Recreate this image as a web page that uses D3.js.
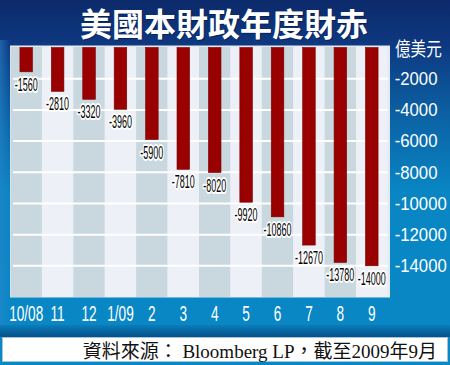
<!DOCTYPE html>
<html><head><meta charset="utf-8">
<script src="https://cdn.jsdelivr.net/npm/d3@7"></script>
<style>
html,body{margin:0;padding:0;background:#0987c4;}
svg{display:block;}
</style></head>
<body>
<svg id="c" width="450" height="365"></svg>
<script>
const categories = ["10/08","11","12","1/09","2","3","4","5","6","7","8","9"];
const deficits = [-1560,-2810,-3320,-3960,-5900,-7810,-8020,-9920,-10860,-12670,-13780,-14000];
const yTicks = [-2000,-4000,-6000,-8000,-10000,-12000,-14000];
const title = "美國本財政年度財赤";
const unitLabel = "億美元";
const sourceText = "資料來源： Bloomberg LP，截至2009年9月";

const svg = d3.select("#c");
const W = 450, H = 365;
const defs = svg.append("defs");
const bg = defs.append("linearGradient").attr("id","bg").attr("x1",0).attr("y1",0).attr("x2",0).attr("y2",1);
[[0,"#0c2a6a"],[0.12,"#0e3880"],[0.33,"#0b64a6"],[0.52,"#0985c3"],[1,"#0988c6"]].forEach(s=>bg.append("stop").attr("offset",s[0]).attr("stop-color",s[1]));
const lg = defs.append("linearGradient").attr("id","lg").attr("x1",0).attr("y1",0).attr("x2",1).attr("y2",0);
[[0,"#2a86cc",0.55],[1,"#2a86cc",0]].forEach(s=>lg.append("stop").attr("offset",s[0]).attr("stop-color",s[1]).attr("stop-opacity",s[2]));
const sh = defs.append("linearGradient").attr("id","sh").attr("x1",0).attr("y1",0).attr("x2",0).attr("y2",1);
[[0,"#0a7dba"],[1,"#07508a"]].forEach(s=>sh.append("stop").attr("offset",s[0]).attr("stop-color",s[1]));

svg.append("rect").attr("width",W).attr("height",H).attr("fill","url(#bg)");
svg.append("rect").attr("x",0).attr("y",40).attr("width",10).attr("height",290).attr("fill","url(#lg)");

// title
svg.append("text").attr("x",225).attr("y",36.5).attr("text-anchor","middle")
  .attr("font-family","'Noto Sans CJK TC','Noto Sans CJK SC',sans-serif").attr("font-weight",700)
  .attr("font-size",32).attr("fill","#06183f").attr("opacity",0.6).text(title);
svg.append("text").attr("x",224).attr("y",35.5).attr("text-anchor","middle")
  .attr("font-family","'Noto Sans CJK TC','Noto Sans CJK SC',sans-serif").attr("font-weight",700)
  .attr("font-size",32).attr("fill","#ffffff").text(title);

const plotL = 10, plotR = 390, plotT = 45.5, plotB = 297.5;
const x = d3.scaleBand().domain(categories).range([10.5, 387.5]).padding(0);
const y = d3.scaleLinear().domain([0,-16000]).range([47.5, 297]);

svg.append("rect").attr("x",plotL).attr("y",plotT).attr("width",plotR-plotL).attr("height",plotB-plotT)
  .attr("fill","#e4eaf2");
svg.append("g").selectAll("rect").data(categories).join("rect")
  .attr("x",d=>x(d)).attr("y",plotT+1.5).attr("width",x.bandwidth()).attr("height",plotB-plotT-2)
  .attr("fill",(d,i)=>i%2===0?"#c8d8de":"#eef0f8");

// gridlines
svg.append("g").selectAll("line").data(yTicks).join("line")
  .attr("x1",13).attr("x2",388).attr("y1",d=>y(d)).attr("y2",d=>y(d))
  .attr("stroke","#ffffff").attr("stroke-width",2);

// bars
const bw = x.bandwidth()*0.4;
svg.append("g").selectAll("rect").data(deficits).join("rect")
  .attr("x",(d,i)=>x(categories[i])+x.bandwidth()/2-bw/2)
  .attr("y",y(0)).attr("width",bw).attr("height",d=>y(d)-y(0))
  .attr("fill","#990000").attr("stroke","#7a0000").attr("stroke-width",0.6);

// value labels
const vl = svg.append("g").selectAll("g").data(deficits).join("g")
  .attr("transform",(d,i)=>`translate(${x(categories[i])+x.bandwidth()/2},${y(d)+19})`);
vl.append("text").attr("transform","scale(0.5,1)").attr("text-anchor","middle")
  .attr("font-family","'Liberation Sans',Arial,sans-serif").attr("font-size",18)
  .attr("fill","#000").attr("stroke","#fff").attr("stroke-width",4).attr("stroke-linejoin","round")
  .attr("paint-order","stroke").text(d=>d);

// right axis
const ya = svg.append("g").attr("transform",`translate(${plotR},0)`)
  .call(d3.axisRight(y).tickValues(yTicks).tickSize(0).tickPadding(5).tickFormat(d=>d));
ya.select(".domain").remove();
ya.selectAll("text").attr("fill","#fff").attr("font-size",18)
  .attr("font-family","'Liberation Sans',Arial,sans-serif").attr("transform","scale(0.93,1)");

svg.append("text").attr("x",395).attr("y",56).attr("transform","translate(395,0) scale(0.82,1) translate(-395,0)")
  .attr("font-family","'Noto Sans CJK TC',sans-serif").attr("font-size",19).attr("fill","#fff").text(unitLabel);

// bottom axis
const xa = svg.append("g").attr("transform",`translate(0,${plotB})`)
  .call(d3.axisBottom(x).tickSize(0).tickPadding(8));
xa.select(".domain").remove();
xa.selectAll("text").attr("fill","#fff").attr("font-size",22)
  .attr("font-family","'Liberation Sans',Arial,sans-serif").attr("transform","scale(0.62,1)");

// footer
svg.append("rect").attr("x",0).attr("y",325).attr("width",W).attr("height",12).attr("fill","url(#sh)");
svg.append("rect").attr("x",2.5).attr("y",337.5).attr("width",445).attr("height",24).attr("fill","#fff")
  .attr("stroke","#a9c3d6").attr("stroke-width",1);
svg.append("text").attr("x",437).attr("y",358).attr("text-anchor","end")
  .attr("font-family","'Liberation Serif','DejaVu Serif','Noto Sans CJK TC',serif").attr("font-size",19)
  .attr("fill","#111").text(sourceText);
</script>
</body></html>
